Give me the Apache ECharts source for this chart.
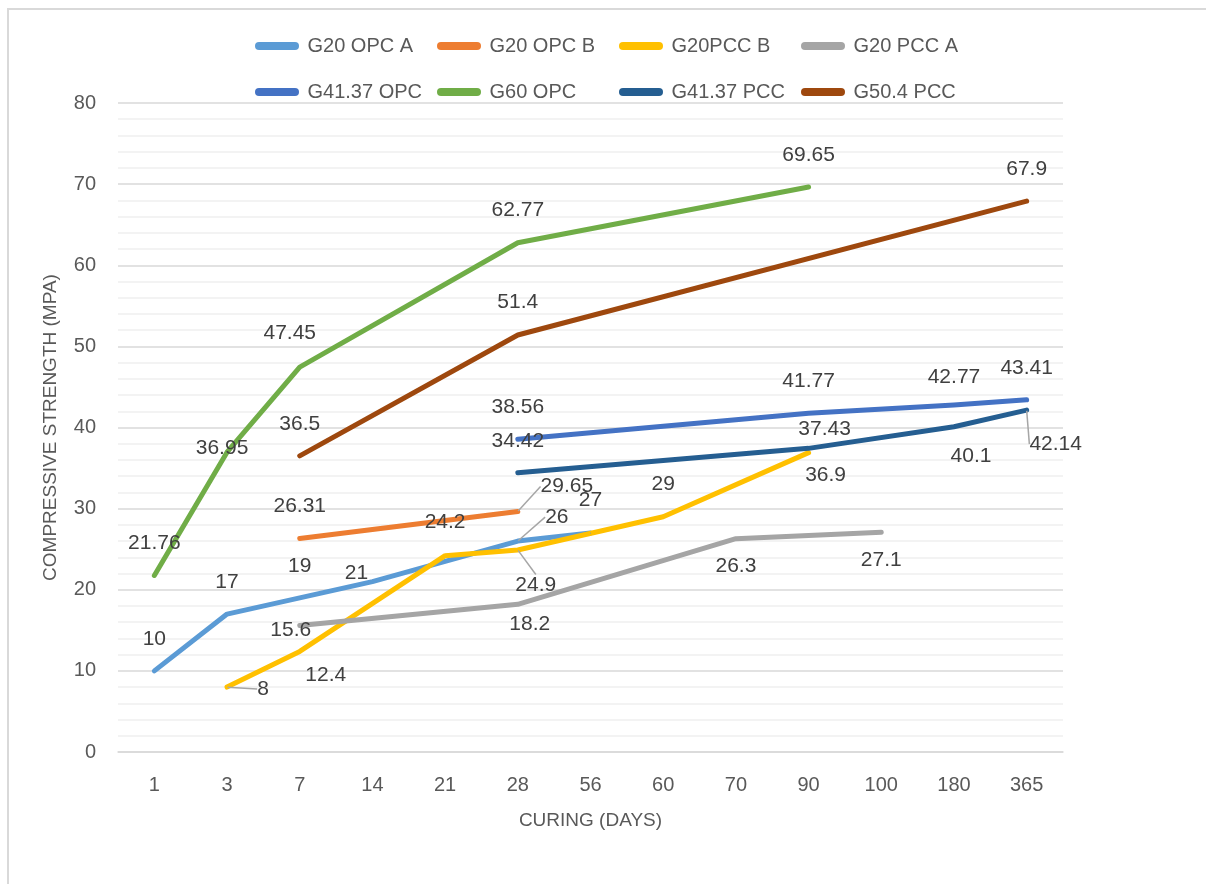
<!DOCTYPE html>
<html>
<head>
<meta charset="utf-8">
<title>Compressive strength vs curing age</title>
<script src="https://cdn.jsdelivr.net/npm/echarts@6/dist/echarts.min.js"></script>
<style>
  html, body { margin: 0; padding: 0; background: #ffffff; }
  #chart { width: 1206px; height: 884px; }
</style>
</head>
<body>
<div id="chart"></div>
<script>
// Curing ages (days) shown as evenly spaced categories
const categories = ['1', '3', '7', '14', '21', '28', '56', '60', '70', '90', '100', '180', '365'];

// Compressive strength (MPa) per mix; null = not tested at that age
const g20OpcA    = [10, 17, 19, 21, null, 26, 27, null, null, null, null, null, null];
const g20OpcB    = [null, null, 26.31, null, null, 29.65, null, null, null, null, null, null, null];
const g20PccB    = [null, 8, 12.4, null, 24.2, 24.9, null, 29, null, 36.9, null, null, null];
const g20PccA    = [null, null, 15.6, null, null, 18.2, null, null, 26.3, null, 27.1, null, null];
const g4137Opc   = [null, null, null, null, null, 38.56, null, null, null, 41.77, null, 42.77, 43.41];
const g60Opc     = [21.76, 36.95, 47.45, null, null, 62.77, null, null, null, 69.65, null, null, null];
const g4137Pcc   = [null, null, null, null, null, 34.42, null, null, null, 37.43, null, 40.1, 42.14];
const g504Pcc    = [null, null, 36.5, null, null, 51.4, null, null, null, null, null, null, 67.9];

const yTicks = { min: 0, max: 80, step: 10 };

// Series definitions: name, values, colour
const seriesDefs = [
  { name: 'G20 OPC A',  values: g20OpcA,  color: '#5B9BD5' },
  { name: 'G20 OPC B',  values: g20OpcB,  color: '#ED7D31' },
  { name: 'G20PCC B',   values: g20PccB,  color: '#FFC000' },
  { name: 'G20 PCC A',  values: g20PccA,  color: '#A5A5A5' },
  { name: 'G41.37 OPC', values: g4137Opc, color: '#4472C4' },
  { name: 'G60 OPC',    values: g60Opc,   color: '#70AD47' },
  { name: 'G41.37 PCC', values: g4137Pcc, color: '#255E91' },
  { name: 'G50.4 PCC',  values: g504Pcc,  color: '#9E480E' }
];

// Label placement: offset of each label's centre from its point (px),
// third entry true where a leader line joins label and point.
const ABOVE = [0, -32];
const labelPlacement = {
  'G20 OPC A':  { 0: ABOVE, 1: ABOVE, 2: ABOVE, 3: [-16, -8], 5: [39, -24, true], 6: [0, -33] },
  'G20 OPC B':  { 2: ABOVE, 5: [49, -25, true] },
  'G20PCC B':   { 1: [36, 2, true], 2: [26, 24], 4: [0, -33], 5: [18, 35, true], 7: [0, -33], 9: [17, 23] },
  'G20 PCC A':  { 2: [-9, 5], 5: [12, 20], 8: [0, 28], 10: [0, 28] },
  'G41.37 OPC': { 5: ABOVE, 9: ABOVE, 11: [0, -28], 12: ABOVE },
  'G60 OPC':    { 0: ABOVE, 1: [-5, -4], 2: [-10, -34], 5: [0, -33], 9: ABOVE },
  'G41.37 PCC': { 5: ABOVE, 9: [16, -19], 11: [17, 30], 12: [29, 34, true] },
  'G50.4 PCC':  { 2: ABOVE, 5: [0, -33], 12: ABOVE }
};

const FONT = "'Liberation Sans', Arial, sans-serif";
const capsule = 'path://M5,0 L50,0 A5,5 0 0 1 50,10 L5,10 A5,5 0 0 1 5,0 Z';

const series = seriesDefs.map(def => {
  const place = labelPlacement[def.name] || {};
  return {
    name: def.name,
    type: 'line',
    data: def.values.map((v, i) => ({
      value: v,
      labelLine: { show: !!(place[i] && place[i][2]) }
    })),
    connectNulls: true,
    symbol: 'circle',
    symbolSize: 1,
    showSymbol: true,
    itemStyle: { color: def.color },
    lineStyle: { color: def.color, width: 5, cap: 'round', join: 'round' },
    label: {
      show: true,
      position: 'inside',
      formatter: p => String(p.value),
      fontFamily: FONT,
      fontSize: 21,
      color: '#404040'
    },
    labelLine: {
      show: false,
      lineStyle: { color: '#A6A6A6', width: 1.5 }
    },
    labelLayout: params => {
      const p = place[params.dataIndex];
      return p ? { dx: p[0], dy: p[1] } : {};
    },
    emphasis: { disabled: true },
    animation: false
  };
});

// Legend: four fixed-width columns, two rows; one legend block per entry
const LEGEND_COLS = 4;
const legends = seriesDefs.map((def, i) => ({
  left: 255 + (i % LEGEND_COLS) * 182,
  top: 36 + Math.floor(i / LEGEND_COLS) * 46,
  orient: 'horizontal',
  itemWidth: 55,
  itemHeight: 8,
  padding: 0,
  icon: capsule,
  selectedMode: false,
  data: [def.name],
  textStyle: { fontFamily: FONT, fontSize: 20, color: '#595959', padding: [0, 0, 0, -2] }
}));

const chart = echarts.init(document.getElementById('chart'), null, { renderer: 'canvas' });
chart.setOption({
  backgroundColor: '#ffffff',
  animation: false,
  textStyle: { fontFamily: FONT },
  graphic: [
    { type: 'line', shape: { x1: 8, y1: 9, x2: 1206, y2: 9 }, style: { stroke: '#D9D9D9', lineWidth: 2 }, silent: true },
    { type: 'line', shape: { x1: 8, y1: 8, x2: 8, y2: 884 }, style: { stroke: '#D9D9D9', lineWidth: 2 }, silent: true }
  ],
  legend: legends,
  grid: { left: 118, right: 143, top: 103, bottom: 132, containLabel: false },
  xAxis: {
    type: 'category',
    data: categories,
    boundaryGap: true,
    name: 'CURING (DAYS)',
    nameLocation: 'middle',
    nameGap: 59,
    nameTextStyle: { fontFamily: FONT, fontSize: 19, color: '#595959' },
    axisLine: { show: true, lineStyle: { color: '#D9D9D9', width: 1.5 } },
    axisTick: { show: false },
    axisLabel: { interval: 0, margin: 23, fontFamily: FONT, fontSize: 20, color: '#595959' },
    splitLine: { show: false }
  },
  yAxis: {
    type: 'value',
    min: yTicks.min,
    max: yTicks.max,
    interval: yTicks.step,
    name: 'COMPRESSIVE STRENGTH (MPA)',
    nameLocation: 'middle',
    nameGap: 58,
    nameRotate: 90,
    nameTextStyle: { fontFamily: FONT, fontSize: 19, color: '#595959' },
    axisLine: { show: false },
    axisTick: { show: false },
    axisLabel: { margin: 22, fontFamily: FONT, fontSize: 20, color: '#595959' },
    splitLine: { show: true, lineStyle: { color: '#D9D9D9', width: 1.5 } },
    minorTick: { show: false, splitNumber: 5 },
    minorSplitLine: { show: true, lineStyle: { color: '#F0F0F0', width: 1.5 } }
  },
  series: series
});
</script>
</body>
</html>
